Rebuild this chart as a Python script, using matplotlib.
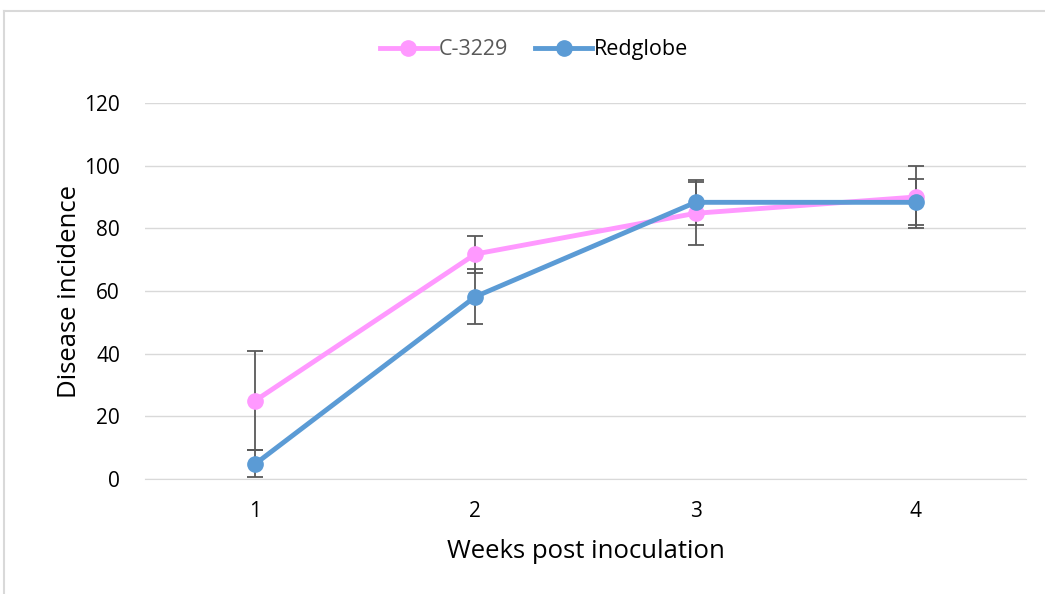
import matplotlib

matplotlib.use("Agg")
import matplotlib.pyplot as plt  # noqa: E402
from matplotlib.lines import Line2D  # noqa: E402

weeks = [1, 2, 3, 4]
c3229 = [25.0, 71.8, 84.8, 90.0]
c3229_err = [15.8, 5.9, 10.0, 10.0]
redglobe = [4.8, 58.2, 88.3, 88.3]
redglobe_err = [4.3, 8.7, 7.1, 7.3]

pink = "#FF99FF"
blue = "#5B9BD5"
grid_c = "#D9D9D9"
text_c = "#595959"

plt.rcParams["font.family"] = ["Open Sans", "DejaVu Sans"]

fig = plt.figure(figsize=(10.45, 5.94), dpi=100)
ax = fig.add_axes([0.1388, 0.1936, 0.843, 0.633])

for vals, errs, col, lab in [(c3229, c3229_err, pink, "C-3229"),
                             (redglobe, redglobe_err, blue, "Redglobe")]:
    ax.errorbar(weeks, vals, yerr=errs, fmt="none", ecolor=text_c,
                elinewidth=1.3, capsize=6, capthick=1.3, zorder=2)
    ax.plot(weeks, vals, color=col, lw=3.5, marker="o", ms=11,
            label=lab, zorder=3)

ax.set_xlim(0.5, 4.5)
ax.set_ylim(0, 120)
ax.set_xticks(weeks)
ax.set_yticks(range(0, 121, 20))
ax.grid(axis="y", color=grid_c, lw=1)
ax.set_axisbelow(True)
for s in ["left", "right", "top"]:
    ax.spines[s].set_visible(False)
ax.spines["bottom"].set_color(grid_c)
ax.tick_params(length=0, labelsize=15, labelcolor="black")
ax.tick_params(axis="x", pad=16)
ax.tick_params(axis="y", pad=18)
ax.set_xlabel("Weeks post inoculation", fontsize=18.5, labelpad=12)
ax.set_ylabel("Disease incidence", fontsize=18.5, labelpad=2)

leg = ax.legend(loc="center", bbox_to_anchor=(0.4415, 1.141), ncol=2,
                frameon=False, fontsize=15.5, handlelength=2.65,
                handletextpad=0.1, columnspacing=1.25, borderaxespad=0)
leg.get_texts()[0].set_color(text_c)

# outer chart border (cropped in the source)
fig.add_artist(Line2D([0.004, 1.0], [0.981, 0.981], color=grid_c, lw=1.5,
                      transform=fig.transFigure))
fig.add_artist(Line2D([0.004, 0.004], [0.0, 0.981], color=grid_c, lw=1.5,
                      transform=fig.transFigure))

fig.savefig("out.png", dpi=100)
plt.close(fig)
